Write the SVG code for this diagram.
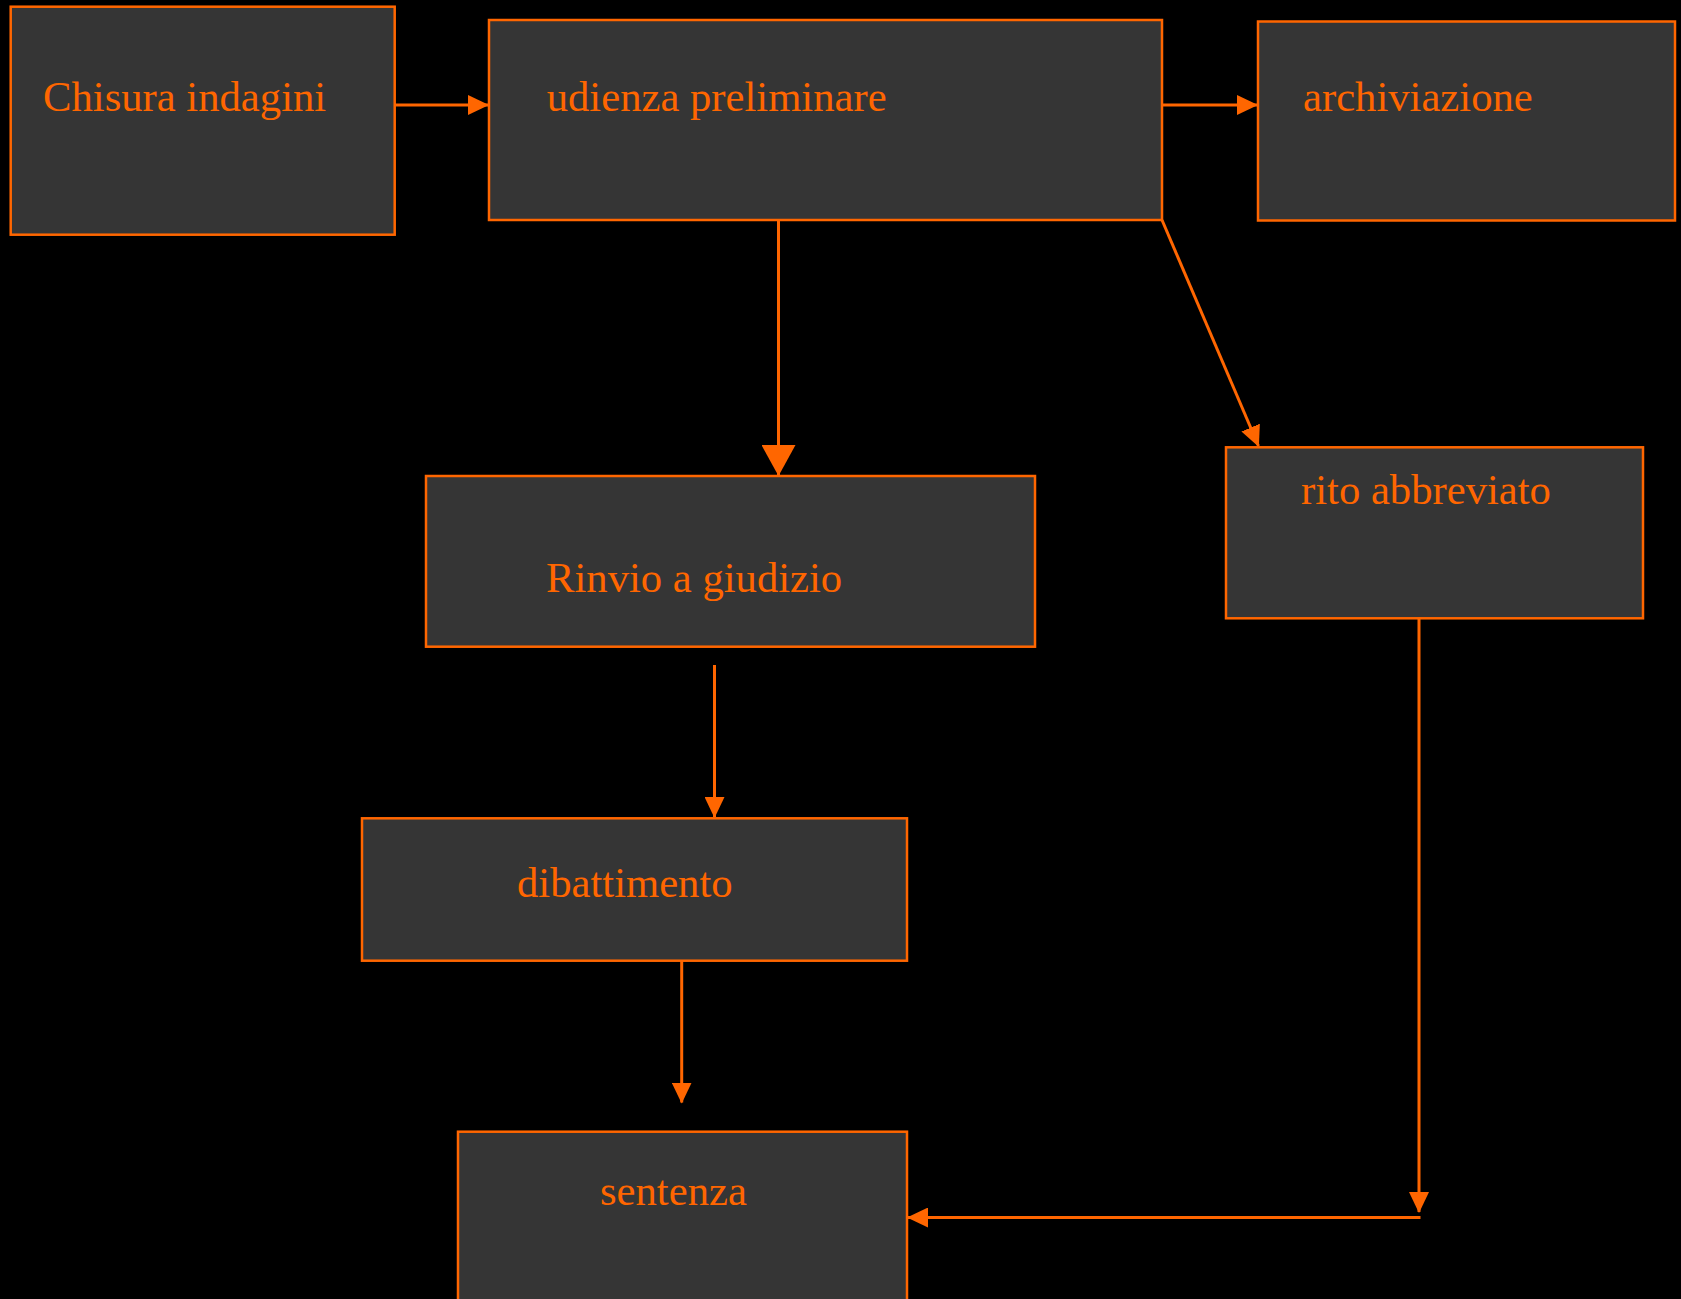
<svg xmlns="http://www.w3.org/2000/svg" width="1681" height="1299" viewBox="0 0 1681 1299">
<style>
.box{fill:#353535;stroke:#ff6600;stroke-width:2.5}
.lbl{font-family:"Liberation Serif","Times New Roman",serif;font-size:42.67px;fill:#ff6600}
.con{stroke:#ff6600;stroke-width:3;fill:none}
</style>
<defs>
<marker id="ah" markerUnits="userSpaceOnUse" markerWidth="21" markerHeight="20" refX="20" refY="10" orient="auto">
<path d="M0,0 L21,10 L0,20 z" fill="#ff6600"/>
</marker>
<marker id="ahBig" markerUnits="userSpaceOnUse" markerWidth="31" markerHeight="34" refX="30" refY="17" orient="auto">
<path d="M0,0 L31,17 L0,34 z" fill="#ff6600"/>
</marker>
</defs>
<rect x="0" y="0" width="1681" height="1299" fill="#000000"/>
<g id="connectors">
<line class="con" x1="395" y1="105" x2="488" y2="105" marker-end="url(#ah)"/>
<line class="con" x1="1162" y1="105" x2="1257" y2="105" marker-end="url(#ah)"/>
<line class="con" x1="778.5" y1="220" x2="778.5" y2="475" marker-end="url(#ahBig)"/>
<line class="con" x1="1162" y1="220" x2="1258.5" y2="446" marker-end="url(#ah)"/>
<line class="con" x1="714.5" y1="665" x2="714.5" y2="817" marker-end="url(#ah)"/>
<line class="con" x1="681.7" y1="960.7" x2="681.7" y2="1102.5" marker-end="url(#ah)"/>
<line class="con" x1="1419" y1="614" x2="1419" y2="1212" marker-end="url(#ah)"/>
<line class="con" x1="1420.5" y1="1217.5" x2="908" y2="1217.5" marker-end="url(#ah)"/>
</g>
<g id="node-chiusura">
<rect class="box" x="10.7" y="6.7" width="384" height="228"/>
<text class="lbl" x="43" y="111">Chisura indagini</text>
</g>
<g id="node-udienza">
<rect class="box" x="489" y="20" width="673" height="200"/>
<text class="lbl" x="546.7" y="111">udienza preliminare</text>
</g>
<g id="node-archiviazione">
<rect class="box" x="1258" y="21.5" width="417" height="199"/>
<text class="lbl" x="1303" y="111">archiviazione</text>
</g>
<g id="node-rito">
<rect class="box" x="1226" y="447.3" width="417" height="171"/>
<text class="lbl" x="1301" y="504">rito abbreviato</text>
</g>
<g id="node-rinvio">
<rect class="box" x="426" y="476" width="609" height="170.7"/>
<text class="lbl" x="546" y="591.7">Rinvio a giudizio</text>
</g>
<g id="node-dibattimento">
<rect class="box" x="362" y="818.3" width="545" height="142.4"/>
<text class="lbl" x="517" y="897">dibattimento</text>
</g>
<g id="node-sentenza">
<rect class="box" x="458" y="1131.7" width="449" height="200"/>
<text class="lbl" x="600" y="1205">sentenza</text>
</g>
</svg>
